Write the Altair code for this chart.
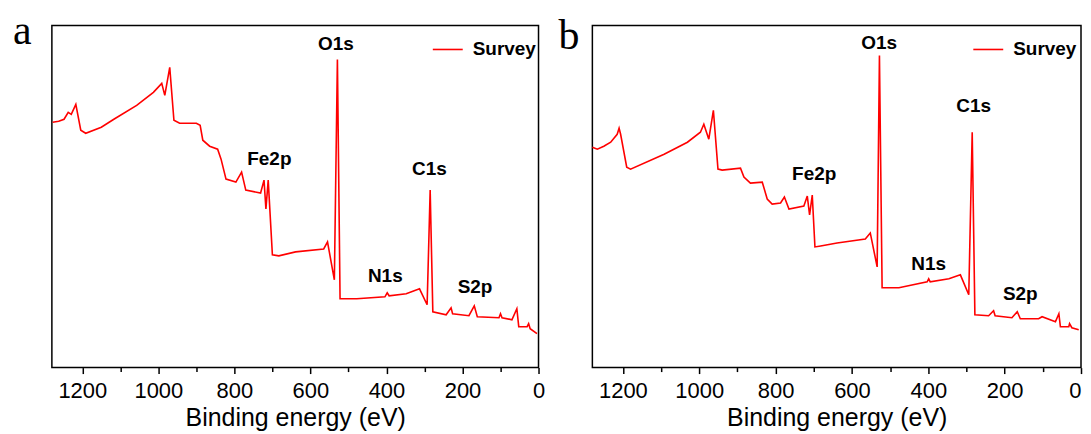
import altair as alt
import pandas as pd

# ---- data (energy in eV, intensity in arbitrary units) ----
energy_a = [1278, 1262, 1248, 1237, 1229, 1217, 1204, 1191, 1150, 1117, 1057, 1013, 991, 983, 970,
            959, 944, 900, 890, 883, 865, 844, 835, 822, 796, 781, 770, 731, 722, 717, 711,
            700, 683, 639, 565, 555, 537, 529, 522, 478, 404, 398, 393, 348, 313, 293, 285,
            278, 243, 230, 226, 183, 169, 161, 104, 100, 96, 70, 57, 52, 30, 26, 22, 4]
intensity_a = [248, 249, 251, 258, 256, 266, 240, 237, 243, 251, 265, 278, 287, 275, 303,
               250, 247, 247, 245, 230, 224, 221, 211, 191, 188, 198, 180, 177, 190, 161, 190,
               115, 114, 118, 121, 128, 90, 311, 71, 71, 73, 77, 74, 76, 81, 65, 180,
               58, 55, 62, 56, 54, 64, 53, 52, 56, 52, 50, 61, 43, 43, 46, 41, 36]

energy_b = [1280, 1267, 1250, 1232, 1215, 1210, 1206, 1190, 1180, 1092, 1031, 997, 988, 975, 963,
            951, 940, 892, 883, 866, 835, 822, 809, 787, 777, 765, 726, 717, 711, 704,
            697, 682, 639, 565, 552, 534, 528, 521, 477, 403, 399, 395, 346, 316, 294, 285,
            278, 242, 229, 225, 181, 167, 159, 111, 102, 67, 58, 54, 32, 30, 24, 6]
intensity_b = [223, 221, 224, 228, 236, 242, 236, 203, 201, 216, 228, 238, 246, 231, 260,
               201, 200, 202, 193, 187, 188, 171, 166, 167, 173, 161, 164, 174, 155, 175,
               123, 124, 127, 131, 137, 103, 315, 82, 82, 88, 91, 88, 91, 95, 75, 238,
               55, 54, 59, 54, 52, 58, 51, 51, 53, 48, 56, 43, 43, 46, 42, 40]

peak_labels = ["O1s", "C1s", "N1s", "S2p", "Fe2p"]
label_energy_a = [533, 287, 403, 167, 708]
label_int_a = [320, 195, 88, 77, 205]
label_energy_b = [529, 281, 399, 159, 699]
label_int_b = [321, 258, 100, 70, 190]

series_name = "Survey"
major_ticks = [1200, 1000, 800, 600, 400, 200, 0]
minor_ticks = [1100, 900, 700, 500, 300, 100]

FONT = "Liberation Sans"
RED = "#ff0000"


def panel(energy, intensity, lab_e, lab_i, letter, letter_dx, letter_y, width, flush):
    df = pd.DataFrame({"energy": energy, "intensity": intensity,
                       "idx": list(range(len(energy))), "series": series_name})
    lab = pd.DataFrame({"energy": lab_e, "intensity": lab_i, "label": peak_labels})
    xscale = alt.Scale(domain=[1280, 0], nice=False, zero=False)
    yscale = alt.Scale(domain=[2, 345], nice=False, zero=False)

    line = alt.Chart(df).mark_line(strokeWidth=1.6).encode(
        x=alt.X("energy:Q", scale=xscale,
                axis=alt.Axis(values=major_ticks, title="Binding energy (eV)", orient="bottom",
                              tickSize=6, labelPadding=7, titlePadding=4, grid=False,
                              domain=False, format="d", labelFlush=flush)),
        y=alt.Y("intensity:Q", scale=yscale,
                axis=alt.Axis(title="Intensity (a.u.)", labels=False, ticks=False,
                              domain=False, grid=False, titlePadding=6)),
        color=alt.Color("series:N", scale=alt.Scale(range=[RED]),
                        legend=alt.Legend(title=None, orient="none", legendX=381, legendY=8,
                                          symbolType="stroke", symbolSize=900,
                                          symbolStrokeWidth=1.6, labelFont=FONT,
                                          labelFontSize=19, labelFontWeight="bold",
                                          labelColor="black", labelOffset=9, padding=0)),
        order="idx:Q",
    )

    minor = alt.Chart(pd.DataFrame({"energy": minor_ticks})).mark_point(opacity=0).encode(
        x=alt.X("energy:Q", scale=xscale,
                axis=alt.Axis(values=minor_ticks, labels=False, tickSize=4, title="",
                              orient="bottom", grid=False, domain=False)),
    )

    text = alt.Chart(lab).mark_text(font=FONT, fontSize=19, fontWeight="bold",
                                    align="center", baseline="alphabetic", color="black").encode(
        x=alt.X("energy:Q", scale=xscale, axis=None),
        y=alt.Y("intensity:Q", scale=yscale, axis=None),
        text="label:N",
    )

    letter_chart = alt.Chart(pd.DataFrame({"t": [letter]})).mark_text(
        font="Liberation Serif", fontSize=42, align="left", baseline="alphabetic",
        color="black").encode(text="t:N", x=alt.value(letter_dx), y=alt.value(letter_y))

    return alt.layer(line, minor, text, letter_chart).resolve_axis(x="independent").properties(
        width=width, height=343)


pa = panel(energy_a, intensity_a, label_energy_a, label_int_a, "a", -39, 19, 488, False)
pb = panel(energy_b, intensity_b, label_energy_b, label_int_b, "b", -34, 23.4, 490, True)

chart = alt.hconcat(pa, pb, spacing=54, bounds="flush").resolve_scale(
    color="independent").resolve_legend(color="independent").properties(
    padding={"left": 4, "top": 1, "right": 0, "bottom": 0}
).configure_view(stroke="black", strokeWidth=1.5).configure_axis(
    labelFont=FONT, labelFontSize=22, labelColor="black",
    titleFont=FONT, titleFontSize=25, titleFontWeight="normal", titleColor="black",
    tickColor="black", tickWidth=1.5,
)

chart.save("out.html", embed_options={"renderer": "svg", "actions": False})
